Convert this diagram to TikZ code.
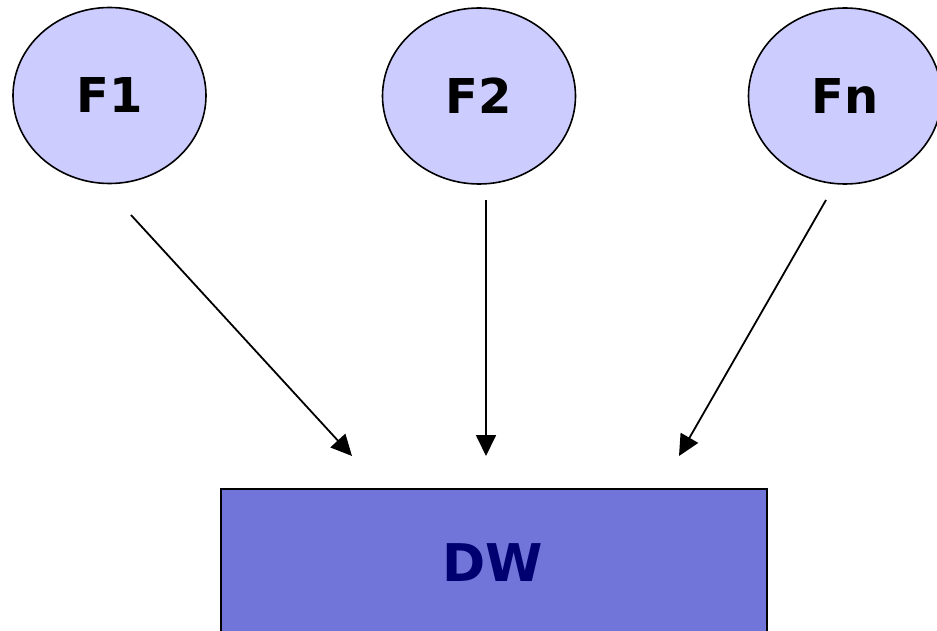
\documentclass[tikz,border=0pt]{standalone}
\usepackage{fontspec}
\setmainfont{DejaVu Sans}
\usetikzlibrary{arrows.meta,shapes.geometric}
\definecolor{srcfill}{HTML}{CCCCFF}
\definecolor{dwfill}{HTML}{7174D9}
\definecolor{dwtext}{HTML}{000070}
\begin{document}
\begin{tikzpicture}[x=1pt,y=-1pt,
  src/.style={ellipse,draw=black,line width=1.6pt,fill=srcfill,minimum width=193pt,minimum height=176pt,inner sep=0pt,font=\fontsize{48}{50}\selectfont\bfseries},
  dwbox/.style={rectangle,draw=black,line width=1.6pt,fill=dwfill,minimum width=546pt,minimum height=200pt,inner sep=0pt,anchor=north west},
  flow/.style={line width=1.8pt,-{Triangle[length=21pt,width=20pt]}}]
\useasboundingbox (0,0) rectangle (937,631);
\node[src] (f1) at (109.5,95.5) {F1};
\node[src] (f2) at (479,96) {F2};
\node[src] (fn) at (845,96) {Fn};
\node[dwbox] (dw) at (220,488) {};
\node[font=\fontsize{52}{54}\selectfont\bfseries,text=dwtext] (dwl) at (493,563) {DW};
\coordinate (s1) at (131,215);
\coordinate (e1) at (352,456);
\coordinate (s2) at (486,200);
\coordinate (e2) at (486,456);
\coordinate (s3) at (826,200);
\coordinate (e3) at (679,456);
\draw[flow] (s1) -- (e1);
\draw[flow] (s2) -- (e2);
\draw[flow] (s3) -- (e3);
\end{tikzpicture}
\end{document}
